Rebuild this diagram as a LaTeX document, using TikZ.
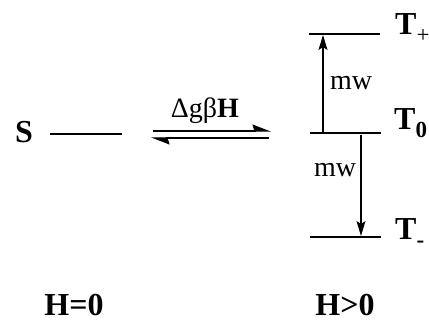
\documentclass[tikz,border=0pt]{standalone}
\usepackage{fontspec}
\setmainfont{Liberation Serif}
\usetikzlibrary{arrows.meta,positioning}

\tikzset{
  lvl/.style={line width=1.4pt},
  lab/.style={font=\fontsize{32}{34}\selectfont\bfseries,inner sep=0pt},
  txt/.style={font=\fontsize{28}{30}\selectfont,inner sep=0pt},
  mwarrow/.style={line width=1.2pt,-{Stealth[length=15pt,width=9pt,inset=3pt]}},
  eqarrow/.style={line width=1.2pt,-{Stealth[harpoon,length=17pt,width=13pt,inset=2pt]}}
}
\newcommand{\lvlsub}[1]{\raisebox{-8pt}{\fontsize{23}{24}\selectfont #1}}

\begin{document}
\begin{tikzpicture}[x=1pt,y=-1pt]
      \useasboundingbox (0,0) rectangle (429,323);
      % singlet, H=0
      \node[lab,anchor=base] (S) at (24,143){S};
      \coordinate (sa) at (50,134);
      \coordinate (sb) at (122,134);
      \draw[lvl](sa) -- (sb);
      % triplet levels, H>0
      \coordinate (tpa) at (309,34);
      \coordinate (tpb) at (380,34);
      \coordinate (t0a) at (310,133);
      \coordinate (t0b) at (381,133);
      \coordinate (tma) at (310,237);
      \coordinate (tmb) at (381,237);
      \draw[lvl](tpa) -- (tpb);
      \draw[lvl](t0a) -- (t0b);
      \draw[lvl](tma) -- (tmb);
      \node[lab,anchor=base west] (Tp) at (395,35){T\lvlsub{\mdseries +}};
      \node[lab,anchor=base west] (T0) at (394,130){T\lvlsub{0}};
      \node[lab,anchor=base west] (Tm) at (395,240){T\lvlsub{-}};
      % equilibrium
      \coordinate (ea) at (153,131);
      \coordinate (eb) at (271,131);
      \coordinate (fa) at (151,138);
      \coordinate (fb) at (269,138);
      \draw[eqarrow](ea) -- (eb);
      \draw[eqarrow](fb) -- (fa);
      \node[txt,anchor=base] (dg) at (205,118){Δgβ\textbf{H}};
      % microwave transitions
      \coordinate (ua) at (323,133);
      \coordinate (ub) at (323,35);
      \coordinate (da) at (361,135);
      \coordinate (db) at (361,236);
      \draw[mwarrow](ua) -- (ub);
      \draw[mwarrow](da) -- (db);
      \node[txt,anchor=base west] (mwa) at (330,90){mw};
      \node[txt,anchor=base west] (mwb) at (314,177){mw};
      % field labels
      \node[lab,anchor=base] (h0) at (74,316){H=0};
      \node[lab,anchor=base] (h1) at (345,316){H>0};
    \end{tikzpicture}
\end{document}
